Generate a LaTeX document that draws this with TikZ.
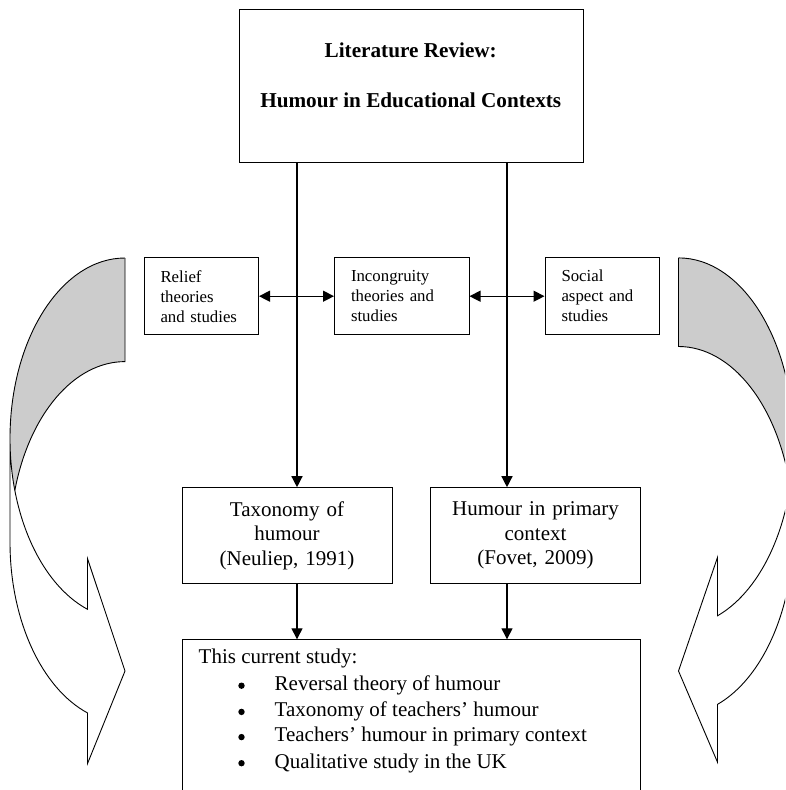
\documentclass[tikz,border=0pt]{standalone}
\usepackage{fontspec}
\setmainfont{Liberation Serif}
\usetikzlibrary{arrows.meta}
\definecolor{backshade}{RGB}{204,204,204}
\begin{document}
\begin{tikzpicture}[x=1pt,y=-1pt,
  box/.style={draw, line width=1pt, inner sep=0pt},
  smallbox/.style={box, minimum height=76.6pt, align=left, inner xsep=16.5pt,
    font=\fontsize{16.8}{20}\selectfont},
  midbox/.style={box, minimum width=210pt, minimum height=95.7pt, align=center,
    text width=200pt, font=\fontsize{21}{24.7}\selectfont},
  conn/.style={line width=1.3pt, -{Triangle[length=11pt,width=11pt]}},
  dconn/.style={line width=1.3pt, {Triangle[length=11pt,width=11pt]}-{Triangle[length=11pt,width=11pt]}},
  band/.style={line width=0.9pt, line join=miter},
  txt/.style={inner sep=0pt, font=\fontsize{21}{26}\selectfont},
  bullet/.style={circle, fill, inner sep=0pt, minimum size=6.4pt, yshift=2.5pt}]
\useasboundingbox (0,0) rectangle (785,790);
\clip (0,0) rectangle (785,790);

% left curved arrow
\fill[backshade] (125,258) arc[start angle=270,end angle=163.3,x radius=115,y radius=180.6]
  arc[start angle=196.7,end angle=270,x radius=115,y radius=180.6] -- cycle;
\draw[band] (125,258) arc[start angle=270,end angle=180,x radius=115,y radius=180.6]
  -- (10,542.2) arc[start angle=180,end angle=109.03,x radius=115,y radius=180.6]
  -- (87.5,763.6) -- (125,671) -- (87.5,558.6) -- (87.5,609.3)
  arc[start angle=109.03,end angle=180,x radius=115,y radius=180.6];
\draw[band] (125,258) -- (125,361.6) arc[start angle=270,end angle=196.7,x radius=115,y radius=180.6];

% right curved arrow
\fill[backshade] (678.5,257.9) arc[start angle=-90,end angle=13.89,x radius=115,y radius=184.4]
  arc[start angle=-13.89,end angle=-90,x radius=115,y radius=184.4] -- cycle;
\draw[band] (678.5,257.9) arc[start angle=-90,end angle=0,x radius=115,y radius=184.4]
  -- (793.5,530.9) arc[start angle=0,end angle=70.18,x radius=115,y radius=184.4]
  -- (717.5,762.2) -- (678.5,671) -- (717.5,557.4) -- (717.5,615.8)
  arc[start angle=70.18,end angle=0,x radius=115,y radius=184.4];
\draw[band] (678.5,257.9) -- (678.5,346.5) arc[start angle=-90,end angle=-13.89,x radius=115,y radius=184.4];

% boxes
\node[box, minimum width=344.5pt, minimum height=153.6pt] (top) at (411.25,85.9) {};
\node[txt, font=\bfseries\fontsize{21.2}{25}\selectfont, anchor=mid] (t1) at (410.75,55.4) {Literature Review:};
\node[txt, font=\bfseries\fontsize{21.2}{25}\selectfont, anchor=mid] (t2) at (410.75,104.8) {Humour in Educational Contexts};

\node[smallbox, minimum width=114.5pt, text width=81.5pt] (relief) at (201.25,296.2) {Relief\\theories\\and studies};
\node[smallbox, minimum width=134.5pt, text width=101.5pt] (incong) at (401.75,296.2) {Incongruity\\theories and\\studies};
\node[smallbox, minimum width=114.5pt, text width=81.5pt] (social) at (602.25,296.2) {Social\\aspect and\\studies};

\node[midbox] (tax) at (287,535.55) {Taxonomy of\\humour\\(Neuliep, 1991)};
\node[midbox] (prim) at (535.5,535.55) {Humour in primary\\context\\(Fovet, 2009)};

\node[box, minimum width=458.5pt, minimum height=160.2pt] (study) at (411.25,719.9) {};
\node[txt, anchor=mid west] (s0) at (198.5,661) {This current study:};
\node[bullet] (b1) at (241.5,688.2) {};
\node[bullet] (b2) at (241.5,714.4) {};
\node[bullet] (b3) at (241.5,739.6) {};
\node[bullet] (b4) at (241.5,765.7) {};
\node[txt, anchor=mid west] (s1) at (274.5,688.2) {Reversal theory of humour};
\node[txt, anchor=mid west] (s2) at (274.5,714.4) {Taxonomy of teachers’ humour};
\node[txt, anchor=mid west] (s3) at (274.5,739.6) {Teachers’ humour in primary context};
\node[txt, anchor=mid west] (s4) at (274.5,765.7) {Qualitative study in the UK};

% connectors
\coordinate (xl) at (297,0);
\coordinate (xr) at (507,0);
\draw[conn] (top.south -| xl) -- (tax.north -| xl);
\draw[conn] (top.south -| xr) -- (prim.north -| xr);
\draw[conn] (tax.south -| xl) -- (study.north -| xl);
\draw[conn] (prim.south -| xr) -- (study.north -| xr);
\draw[dconn] (relief.east) -- (incong.west);
\draw[dconn] (incong.east) -- (social.west);
\end{tikzpicture}
\end{document}
